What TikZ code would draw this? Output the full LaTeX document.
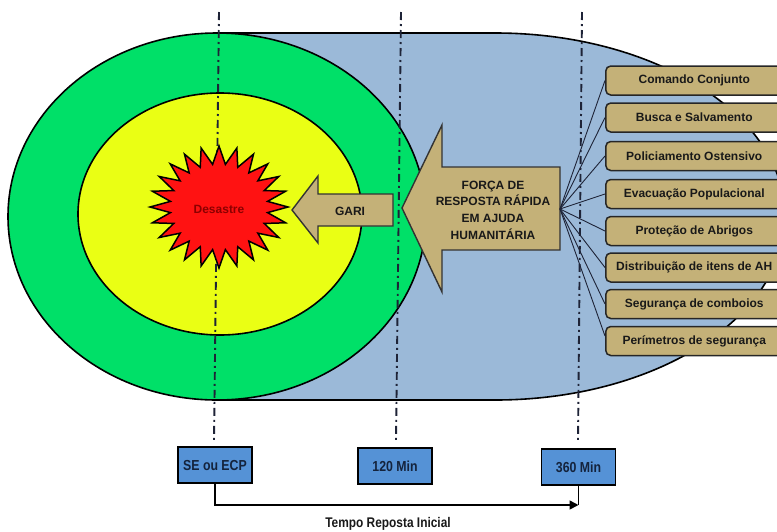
\documentclass[tikz,border=0pt]{standalone}
\usepackage{fontspec}
\setmainfont{Liberation Sans}
\newfontfamily\narrowfont[FakeStretch=0.85]{Liberation Sans}
\usetikzlibrary{arrows.meta}
\definecolor{cgreen}{RGB}{0,224,104}
\definecolor{cyellow}{RGB}{234,255,20}
\definecolor{cblue}{RGB}{155,185,216}
\definecolor{ckhaki}{RGB}{196,177,120}
\definecolor{cbox}{RGB}{85,146,214}
\definecolor{cred}{RGB}{255,18,18}
\definecolor{cdred}{RGB}{140,0,0}
\definecolor{ctext}{RGB}{25,25,25}
\definecolor{cline}{RGB}{30,35,55}
\definecolor{cbtext}{RGB}{20,35,60}
\tikzset{
  zone/.style={draw=black, line width=1.6pt},
  timeline/.style={draw=cline, line width=1.9pt, dash pattern=on 8pt off 4pt on 2pt off 4pt},
  arrowshape/.style={draw=black!80, fill=ckhaki, line width=1.4pt, line join=miter},
  taskbox/.style={draw=black!85, fill=ckhaki, line width=1.5pt, rounded corners=5pt,
    minimum width=177pt, minimum height=29pt, anchor=west, text=ctext,
    font=\bfseries\fontsize{12}{14}\selectfont, inner sep=0pt},
  fanline/.style={draw=cline, line width=0.9pt},
  timebox/.style={draw=black, fill=cbox, line width=1.8pt, minimum width=74pt,
    minimum height=36pt, inner sep=0pt, text=cbtext,
    font=\narrowfont\bfseries\fontsize{14.5}{16}\selectfont},
  lbl/.style={text=ctext, font=\bfseries\fontsize{12}{16.7}\selectfont, align=center, inner sep=0pt}
}
\begin{document}
\begin{tikzpicture}[x=1pt,y=-1pt]
\useasboundingbox (0,0) rectangle (777,531);
% blue capsule
\path[zone, fill=cblue] (216,33) -- (495,33)
  arc[start angle=90, end angle=-90, x radius=290pt, y radius=183.5pt]
  -- (216,400) -- cycle;
% green and yellow zones
\path[zone, fill=cgreen] (217,216.5) ellipse [x radius=209pt, y radius=183.5pt];
\path[zone, fill=cyellow] (220,214) ellipse [x radius=142pt, y radius=121pt];
% time lines
\coordinate (t1top) at (219,12);
\coordinate (t1bot) at (214,442);
\coordinate (t2top) at (401,12);
\coordinate (t2bot) at (396,442);
\coordinate (t3top) at (582,12);
\coordinate (t3bot) at (578,442);
\draw[timeline] (t1top) -- (t1bot);
\draw[timeline] (t2top) -- (t2bot);
\draw[timeline] (t3top) -- (t3bot);
% disaster star
\draw[fill=cred, line width=1.5pt, line join=miter]
  plot[samples=49, domain=0:48, variable=\k]
  ({219+ifthenelse(mod(round(\k),2)==0,69,49)*cos(90+7.5*\k)},
   {207-ifthenelse(mod(round(\k),2)==0,61,43)*sin(90+7.5*\k)}) -- cycle;
\node[text=cdred, font=\bfseries\fontsize{12}{14}\selectfont] (desastre) at (219,209) {Desastre};
% GARI arrow
\path[arrowshape] (292,210) -- (318,176) -- (318,194) -- (393,194) -- (393,226)
  -- (318,226) -- (318,243) -- cycle;
\node[lbl] (gari) at (350,211) {GARI};
% big arrow
\path[arrowshape] (402,208) -- (442,125) -- (442,167) -- (560,167) -- (560,250)
  -- (442,250) -- (442,292) -- cycle;
\coordinate (fr) at (560,209);
\node[lbl] (forca) at (493,210) {FORÇA DE\\RESPOSTA RÁPIDA\\EM AJUDA\\HUMANITÁRIA};
% task boxes
\foreach \n/\y/\t in {b1/80.5/Comando Conjunto, b2/117.5/Busca e Salvamento,
  b3/156/Policiamento Ostensivo, b4/194/Evacuação Populacional,
  b5/231/Proteção de Abrigos, b6/267.5/Distribuição de itens de AH,
  b7/304/Segurança de comboios, b8/341/Perímetros de segurança}{
  \node[taskbox] (\n) at (605,\y) {\makebox[177pt][c]{\t}};
}
\foreach \n in {b1,b2,b3,b4,b5,b6,b7}{
  \draw[fanline] (fr) -- (\n.west);
}
\draw[fanline] (fr) -- ([yshift=5pt]b8.west);
% time boxes
\node[timebox] (se) at (215,465) {SE ou ECP};
\node[timebox] (m120) at (395,466) {120 Min};
\node[timebox] (m360) at (578.5,467) {360 Min};
\coordinate (tend) at (578.5,505);
\draw[line width=1.6pt, -{Triangle[length=9pt,width=9pt]}] (se.south) |- (tend);
\draw[line width=1.6pt] (m360.south) -- (tend);
\node[text=ctext, font=\narrowfont\bfseries\fontsize{14}{16}\selectfont] (tempo) at (388,524) {Tempo Reposta Inicial};
\end{tikzpicture}
\end{document}
